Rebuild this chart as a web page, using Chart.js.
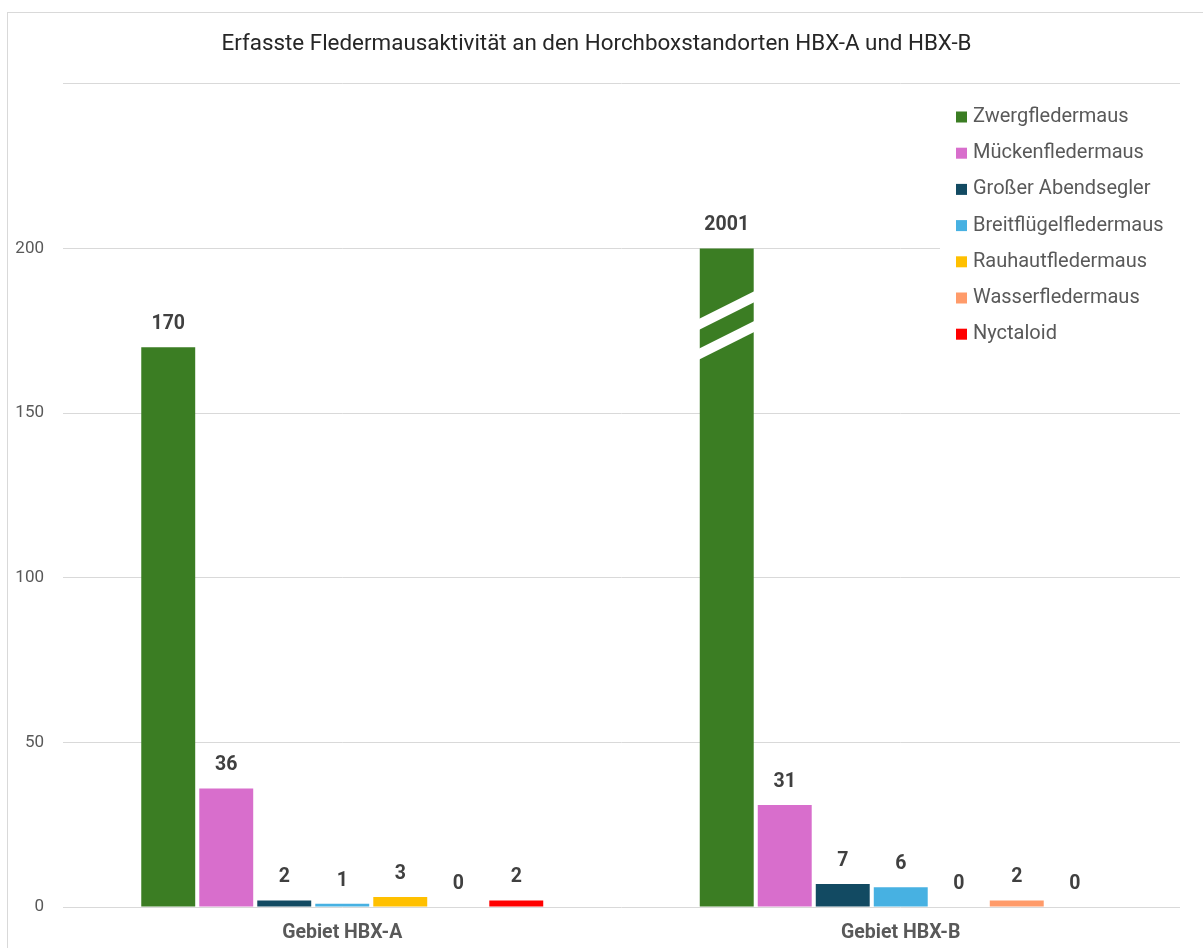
<!DOCTYPE html>
<html>
<head>
<meta charset="utf-8">
<script src="https://cdn.jsdelivr.net/npm/chart.js@4.4.1/dist/chart.umd.min.js"></script>
<style>
  html, body { margin: 0; padding: 0; background: #fff; }
  #wrap { position: absolute; left: 0; top: 0; width: 1203px; height: 948px; }
</style>
</head>
<body>
<div id="wrap"><canvas id="chart"></canvas></div>
<script>
const categories = ['Gebiet HBX-A', 'Gebiet HBX-B'];
const zwergfledermaus = [170, 2001];
const mueckenfledermaus = [36, 31];
const grosserAbendsegler = [2, 7];
const breitfluegelfledermaus = [1, 6];
const rauhautfledermaus = [3, 0];
const wasserfledermaus = [0, 2];
const nyctaloid = [2, 0];
const axisCap = 200;      // bars above this are cut and get a break mark
const breakValues = [181, 172];

const series = [
  { label: 'Zwergfledermaus', counts: zwergfledermaus, color: '#3B7D23' },
  { label: 'Mückenfledermaus', counts: mueckenfledermaus, color: '#D86ECC' },
  { label: 'Großer Abendsegler', counts: grosserAbendsegler, color: '#124A62' },
  { label: 'Breitflügelfledermaus', counts: breitfluegelfledermaus, color: '#47B1E2' },
  { label: 'Rauhautfledermaus', counts: rauhautfledermaus, color: '#FFC000' },
  { label: 'Wasserfledermaus', counts: wasserfledermaus, color: '#FF9B6A' },
  { label: 'Nyctaloid', counts: nyctaloid, color: '#FF0000' }
];

const FONT = 'Roboto, "Liberation Sans", sans-serif';

// frame round the whole chart
const framePlugin = {
  id: 'frame',
  beforeDraw(chart) {
    const ctx = chart.ctx;
    ctx.save();
    ctx.strokeStyle = '#d9d9d9';
    ctx.lineWidth = 1;
    ctx.strokeRect(7.5, 12.5, 1300, 1000);
    ctx.restore();
  }
};

// white slashes on cut bars + value labels on top
const barLabelPlugin = {
  id: 'barLabels',
  afterDatasetsDraw(chart) {
    const ctx = chart.ctx;
    const yScale = chart.scales.y;
    ctx.save();
    chart.data.datasets.forEach((ds, i) => {
      const meta = chart.getDatasetMeta(i);
      meta.data.forEach((bar, j) => {
        const count = series[i].counts[j];
        if (count > axisCap) {
          const left = bar.x - bar.width / 2 - 1;
          const right = bar.x + bar.width / 2 + 1;
          ctx.fillStyle = '#ffffff';
          breakValues.forEach(v => {
            const yc = yScale.getPixelForValue(v);
            ctx.beginPath();
            ctx.moveTo(left, yc + 8);
            ctx.lineTo(right, yc - 20);
            ctx.lineTo(right, yc - 9);
            ctx.lineTo(left, yc + 19);
            ctx.closePath();
            ctx.fill();
          });
        }
        ctx.fillStyle = '#404040';
        ctx.font = 'bold 19.5px ' + FONT;
        ctx.textAlign = 'center';
        ctx.textBaseline = 'middle';
        ctx.fillText(String(count), bar.x, bar.y - 23);
      });
    });
    ctx.restore();
  }
};

// legend inside the plot area, top right, on white ground
const legendPlugin = {
  id: 'boxLegend',
  afterDraw(chart) {
    const ctx = chart.ctx;
    ctx.save();
    ctx.fillStyle = '#ffffff';
    ctx.fillRect(940, 96, 242, 256);
    ctx.font = '20px ' + FONT;
    ctx.textBaseline = 'middle';
    ctx.textAlign = 'left';
    chart.data.datasets.forEach((ds, i) => {
      const y = 117 + i * 36.2;
      ctx.fillStyle = ds.backgroundColor;
      ctx.fillRect(956, y - 5.5, 11, 11);
      ctx.fillStyle = '#595959';
      ctx.fillText(ds.label, 973, y);
    });
    ctx.restore();
  }
};

new Chart(document.getElementById('chart'), {
  type: 'bar',
  data: {
    labels: categories,
    datasets: series.map(s => ({
      label: s.label,
      data: s.counts.map(c => Math.min(c, axisCap)),
      backgroundColor: s.color,
      borderColor: '#ffffff',
      borderWidth: 0,
      categoryPercentage: 0.727,
      barPercentage: 0.93
    }))
  },
  options: {
    responsive: true,
    maintainAspectRatio: false,
    animation: false,
    layout: { padding: { left: 13, right: 23, top: 0, bottom: 0 } },
    plugins: {
      legend: { display: false },
      tooltip: { enabled: false },
      title: {
        display: true,
        text: 'Erfasste Fledermausaktivität an den Horchboxstandorten HBX-A und HBX-B',
        color: '#262626',
        font: { family: FONT, size: 22.4, weight: 'normal' },
        padding: { top: 31, bottom: 26 }
      }
    },
    scales: {
      x: {
        grid: { display: false, drawTicks: false },
        border: { display: false },
        ticks: {
          color: '#595959',
          font: { family: FONT, size: 19.5, weight: 'bold' },
          padding: 14
        },
        afterFit(scale) { scale.height = 41; }
      },
      y: {
        min: 0,
        max: 250,
        grid: { color: '#d9d9d9', lineWidth: 1, drawTicks: false },
        border: { display: false },
        ticks: {
          stepSize: 50,
          color: '#595959',
          font: { family: FONT, size: 17 },
          padding: 19,
          callback: v => (v >= 250 ? '' : v)
        },
        afterFit(scale) { scale.width = 50; }
      }
    }
  },
  plugins: [framePlugin, barLabelPlugin, legendPlugin]
});
</script>
</body>
</html>
